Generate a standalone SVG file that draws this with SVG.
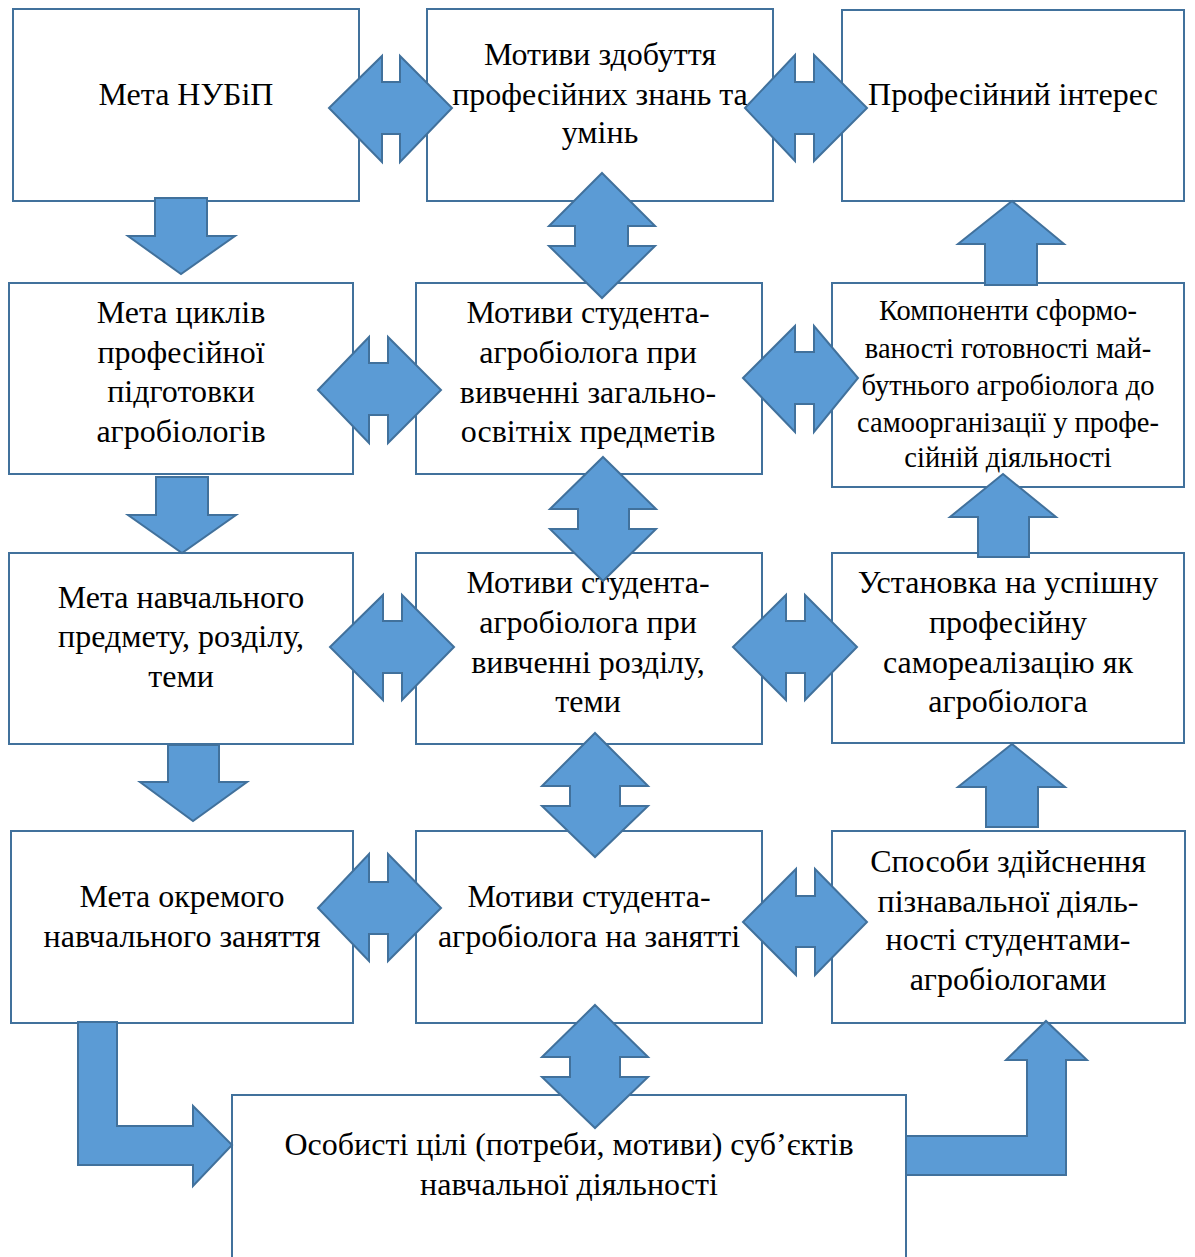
<svg xmlns="http://www.w3.org/2000/svg" width="1195" height="1257" viewBox="0 0 1195 1257">
<style>
.box{fill:#fff;stroke:#41719C;stroke-width:2}
.t{font-family:"Liberation Serif","Times New Roman",serif;font-size:32px;fill:#000;text-anchor:middle}
.s{font-size:28.5px}
.arr{fill:#5B9BD5;stroke:#41719C;stroke-width:2;stroke-linejoin:miter}
</style>
<rect width="1195" height="1257" fill="#fff"/>
<g id="n1"><rect class="box" x="13" y="9" width="346" height="192"/><text class="t" x="186" y="105">Мета НУБіП</text></g>
<g id="n2"><rect class="box" x="427" y="9" width="346" height="192"/><text class="t" x="600" y="65">Мотиви здобуття</text><text class="t" x="600" y="105">професійних знань та</text><text class="t" x="600" y="143">умінь</text></g>
<g id="n3"><rect class="box" x="842" y="10" width="342" height="191"/><text class="t" x="1013" y="105">Професійний інтерес</text></g>
<g id="n4"><rect class="box" x="9" y="283" width="344" height="191"/><text class="t" x="181" y="323">Мета циклів</text><text class="t" x="181" y="363">професійної</text><text class="t" x="181" y="402">підготовки</text><text class="t" x="181" y="442">агробіологів</text></g>
<g id="n5"><rect class="box" x="416" y="283" width="346" height="191"/><text class="t" x="588" y="323">Мотиви студента-</text><text class="t" x="588" y="363">агробіолога при</text><text class="t" x="588" y="403">вивченні загально-</text><text class="t" x="588" y="442">освітніх предметів</text></g>
<g id="n6"><rect class="box" x="832" y="283" width="352" height="204"/><text class="t s" x="1008" y="320">Компоненти сформо-</text><text class="t s" x="1008" y="358">ваності готовності май-</text><text class="t s" x="1008" y="395">бутнього агробіолога до</text><text class="t s" x="1008" y="432">самоорганізації у профе-</text><text class="t s" x="1008" y="467">сійній діяльності</text></g>
<g id="n7"><rect class="box" x="9" y="553" width="344" height="191"/><text class="t" x="181" y="608">Мета навчального</text><text class="t" x="181" y="647">предмету, розділу,</text><text class="t" x="181" y="687">теми</text></g>
<g id="n8"><rect class="box" x="416" y="553" width="346" height="191"/><text class="t" x="588" y="593">Мотиви студента-</text><text class="t" x="588" y="633">агробіолога при</text><text class="t" x="588" y="673">вивченні розділу,</text><text class="t" x="588" y="712">теми</text></g>
<g id="n9"><rect class="box" x="832" y="553" width="352" height="190"/><text class="t" x="1008" y="593">Установка на успішну</text><text class="t" x="1008" y="633">професійну</text><text class="t" x="1008" y="673">самореалізацію як</text><text class="t" x="1008" y="712">агробіолога</text></g>
<g id="n10"><rect class="box" x="11" y="831" width="342" height="192"/><text class="t" x="182" y="907">Мета окремого</text><text class="t" x="182" y="947">навчального заняття</text></g>
<g id="n11"><rect class="box" x="416" y="831" width="346" height="192"/><text class="t" x="589" y="907">Мотиви студента-</text><text class="t" x="589" y="947">агробіолога на занятті</text></g>
<g id="n12"><rect class="box" x="832" y="831" width="353" height="192"/><text class="t" x="1008" y="872">Способи здійснення</text><text class="t" x="1008" y="912">пізнавальної діяль-</text><text class="t" x="1008" y="950">ності студентами-</text><text class="t" x="1008" y="990">агробіологами</text></g>
<g id="n13"><rect class="box" x="232" y="1095" width="674" height="175"/><text class="t" x="569" y="1155">Особисті цілі (потреби, мотиви) суб’єктів</text><text class="t" x="569" y="1195">навчальної діяльності</text></g>
<g id="connectors">
<polygon class="arr" points="329,108 382,56 382,82 400,82 400,56 452,108 400,162 400,134 382,134 382,162"/>
<polygon class="arr" points="745,108 795,55 795,82 814,82 814,55 867,108 814,161 814,134 795,134 795,161"/>
<polygon class="arr" points="602,173 655,226 628,226 628,246 655,246 602,298 549,246 575,246 575,226 549,226"/>
<polygon class="arr" points="318,390 369,337 369,363 388,363 388,337 441,390 388,443 388,415 369,415 369,443"/>
<polygon class="arr" points="743,378 795,326 795,352 814,352 814,326 858,378 814,432 814,404 795,404 795,432"/>
<polygon class="arr" points="603,457 656,509 629,509 629,529 656,529 603,581 550,529 578,529 578,509 550,509"/>
<polygon class="arr" points="330,647 383,595 383,621 402,621 402,595 454,647 402,700 402,673 383,673 383,700"/>
<polygon class="arr" points="733,647 786,595 786,621 805,621 805,595 857,647 805,700 805,673 786,673 786,700"/>
<polygon class="arr" points="595,733 648,786 620,786 620,806 648,806 595,857 542,806 570,806 570,786 542,786"/>
<polygon class="arr" points="318,908 369,854 369,882 388,882 388,854 441,908 388,961 388,934 369,934 369,961"/>
<polygon class="arr" points="743,922 796,869 796,896 815,896 815,869 867,922 815,975 815,947 796,947 796,975"/>
<polygon class="arr" points="595,1005 648,1057 620,1057 620,1077 648,1077 595,1128 542,1077 570,1077 570,1057 542,1057"/>
<polygon class="arr" points="155,198 207,198 207,236 235,236 181,274 128,236 155,236"/>
<polygon class="arr" points="156,477 208,477 208,515 236,515 182,553 128,515 156,515"/>
<polygon class="arr" points="168,745 219,745 219,782 247,782 193,821 140,782 168,782"/>
<polygon class="arr" points="1012,201 1064,244 1037,244 1037,285 985,285 985,244 958,244"/>
<polygon class="arr" points="1003,474 1056,517 1029,517 1029,557 978,557 978,517 950,517"/>
<polygon class="arr" points="1012,744 1065,787 1038,787 1038,827 986,827 986,787 958,787"/>
<polygon class="arr" points="78,1022 117,1022 117,1126 193,1126 193,1106 232,1145 193,1186 193,1165 78,1165"/>
<polygon class="arr" points="906,1136 1027,1136 1027,1060 1006,1060 1046,1021 1087,1060 1066,1060 1066,1175 906,1175"/>
</g>
</svg>
